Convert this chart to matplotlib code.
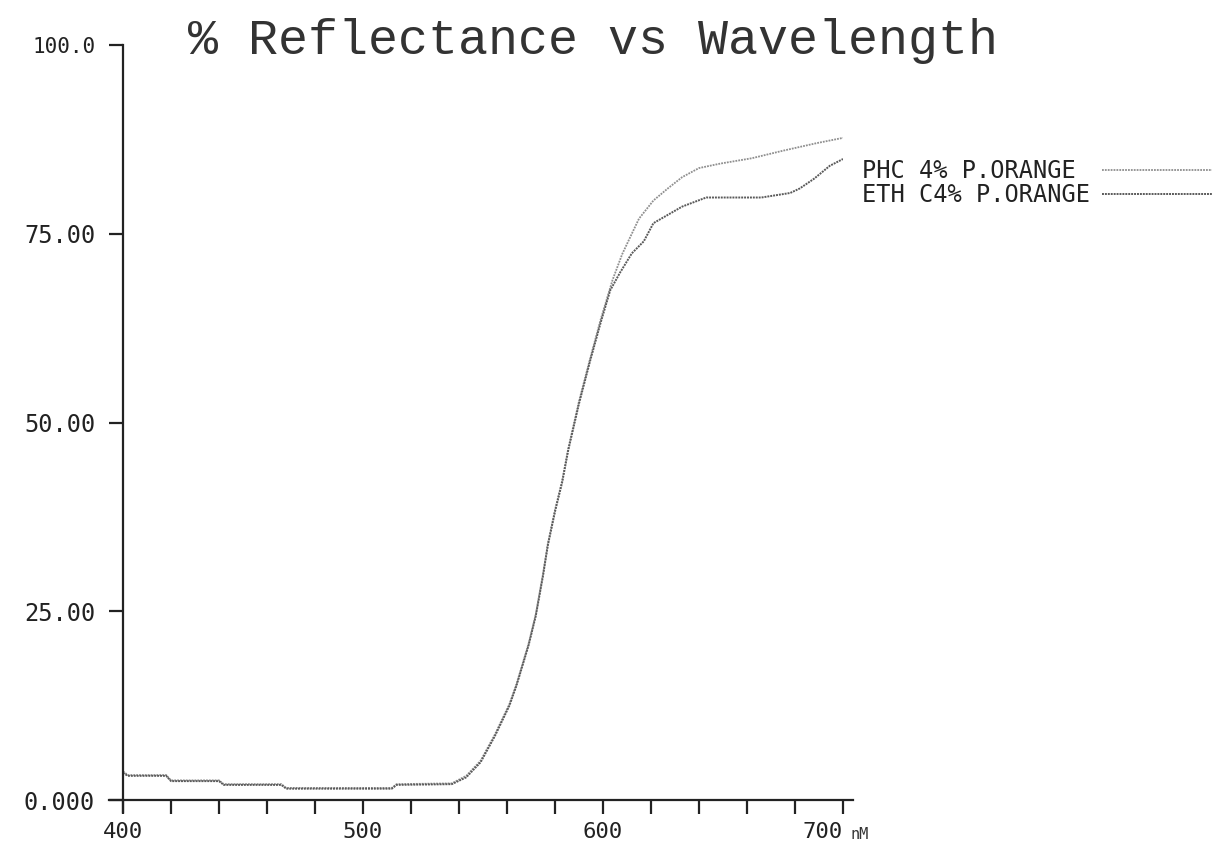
import matplotlib
matplotlib.use("Agg")
import matplotlib.pyplot as plt
import matplotlib.ticker as mticker

# wavelengths (nm) and % reflectance
phc_nm = [400, 402, 418, 420, 440, 442, 466, 468, 512, 514, 537, 543, 549, 555, 561, 564,
          569, 572, 575, 577, 580, 583, 585.5, 590, 594.5, 599, 604, 608, 612, 615, 621,
          627, 633, 640, 649, 662, 675, 689, 700]
phc_refl = [3.8, 3.3, 3.3, 2.6, 2.6, 2.1, 2.1, 1.6, 1.6, 2.1, 2.2, 3.2, 5.2, 8.7, 12.7, 15.4,
            20.7, 24.6, 29.9, 33.9, 38.4, 42.3, 46.5, 52.8, 58.3, 63.6, 68.9, 72.3, 75.0, 77.0, 79.4,
            81.0, 82.5, 83.7, 84.3, 85.0, 86.0, 87.0, 87.7]

eth_nm = [400, 402, 418, 420, 440, 442, 466, 468, 512, 514, 537, 543, 549, 555, 561, 564,
          569, 572, 575, 577, 580, 583, 585.5, 590, 594.5, 599, 603, 607, 612, 617, 621,
          627, 633, 643, 666, 678, 682, 688, 694.5, 700]
eth_refl = [3.6, 3.2, 3.2, 2.5, 2.5, 2.0, 2.0, 1.5, 1.5, 2.0, 2.1, 3.0, 5.0, 8.5, 12.5, 15.2,
            20.5, 24.4, 29.7, 33.7, 38.2, 42.1, 46.3, 52.5, 58.0, 63.2, 67.5, 69.8, 72.4, 74.0, 76.4,
            77.5, 78.6, 79.8, 79.8, 80.4, 81.0, 82.3, 84.0, 84.9]

series_labels = ["PHC 4% P.ORANGE", "ETH C4% P.ORANGE"]
y_ticks = [0, 25, 50, 75, 100]
y_ticklabels = ["0.000", "25.00", "50.00", "75.00", "100.0"]
x_major = [400, 500, 600, 700]

mono = "DejaVu Sans Mono"

fig = plt.figure(figsize=(12.12, 8.51), dpi=100)
ax = fig.add_axes([123 / 1212, 1 - 800 / 851, 720 / 1212, 755 / 851])

ax.plot(phc_nm, phc_refl, color="#8f8f8f", lw=1.3, ls=(0, (1, 0.6)), label=series_labels[0])
ax.plot(eth_nm, eth_refl, color="#5a5a5a", lw=1.4, ls=(0, (1, 0.5)), label=series_labels[1])

ax.set_xlim(400, 700)
ax.set_ylim(0, 100)

ax.spines["top"].set_visible(False)
ax.spines["right"].set_visible(False)
ax.spines["bottom"].set_bounds(394, 704)
ax.spines["left"].set_bounds(-1.6, 100)
for s in ("bottom", "left"):
    ax.spines[s].set_linewidth(1.6)
    ax.spines[s].set_color("#222222")

ax.set_xticks(x_major)
ax.xaxis.set_minor_locator(mticker.MultipleLocator(20))
ax.set_xticklabels([str(v) for v in x_major], fontfamily=mono, fontsize=16)
ax.get_xticklabels()[-1].set_horizontalalignment("right")
ax.set_yticks(y_ticks)
ax.set_yticklabels(y_ticklabels, fontfamily=mono, fontsize=17)
ax.get_yticklabels()[-1].set_fontsize(15)

ax.tick_params(axis="x", which="both", direction="out", length=10, width=1.6,
               color="#222222", pad=6, labelcolor="#222222")
ax.tick_params(axis="y", which="both", direction="out", length=10, width=1.6,
               color="#222222", pad=10, labelcolor="#222222")

ax.text(703, -3.6, "nM", fontfamily=mono, fontsize=11, color="#333333",
        ha="left", va="top", transform=ax.transData)

fig.text(0.489, 0.952, "% Reflectance vs Wavelength", fontfamily="Liberation Mono",
         fontsize=36, color="#333333", ha="center", va="center")

# pad the shorter label so both texts start at the same x with the lines on the right
leg_labels = [lab.ljust(max(len(l) for l in series_labels)) for lab in series_labels]
handles = ax.get_lines()
leg = ax.legend(handles, leg_labels, loc="upper left", bbox_to_anchor=(841 / 1212, 1 - 138 / 851),
                bbox_transform=fig.transFigure, frameon=False, markerfirst=False,
                handlelength=4.8, handletextpad=0.5, labelspacing=0.0,
                prop={"family": mono, "size": 17})
for t in leg.get_texts():
    t.set_color("#222222")

fig.savefig("out.png", dpi=100)
